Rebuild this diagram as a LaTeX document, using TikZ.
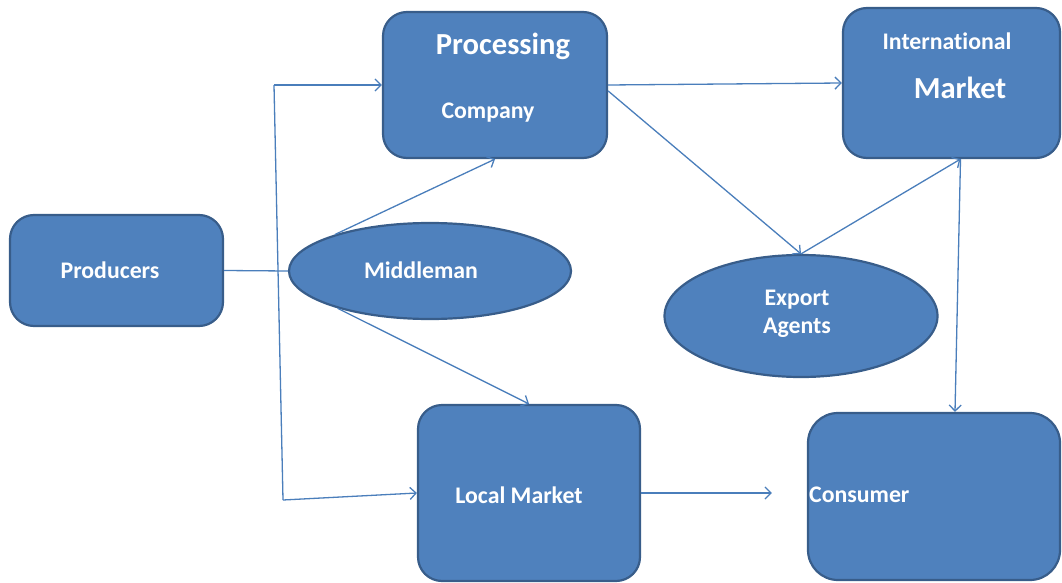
\documentclass[tikz,border=0pt]{standalone}
\usepackage{fontspec}
\setmainfont{Carlito}[Ligatures=NoCommon]
\usetikzlibrary{shapes.geometric,arrows.meta}
\definecolor{boxfill}{RGB}{79,129,189}
\definecolor{boxline}{RGB}{56,93,138}
\definecolor{linkcol}{RGB}{74,126,187}
\tikzstyle{arrow} = [linkcol,line width=1.3pt,-{Straight Barb[length=6pt,width=12pt]}]
\tikzstyle{link} = [linkcol,line width=1.3pt]

\begin{document}
\begin{tikzpicture}[x=1pt,y=-1pt]
                \tikzstyle{box}=[draw=boxline,fill=boxfill,line width=2.2pt,rounded corners=24pt,inner sep=0pt]
                \tikzstyle{oval}=[draw=boxline,fill=boxfill,line width=2.2pt,ellipse,inner sep=0pt]
                \tikzstyle{txt}=[text=white,font=\fontsize{23.8}{28}\bfseries\selectfont,inner sep=0pt,align=center]
                \tikzstyle{bigtxt}=[txt,font=\fontsize{30.6}{35}\bfseries\selectfont]

                \useasboundingbox (0,0) rectangle (1062,583);

                \node (prod) [box, minimum width=213pt, minimum height=111pt] at (116.5,270.5) {};
                \node (proc) [box, minimum width=224pt, minimum height=146pt] at (495,85) {};
                \node (intl) [box, minimum width=217pt, minimum height=150pt] at (951.5,83) {};
                \node (mid) [oval, minimum width=282pt, minimum height=96pt] at (430,271) {};
                \node (expo) [oval, minimum width=273pt, minimum height=122pt] at (801,316) {};
                \node (local) [box, minimum width=222pt, minimum height=176pt] at (529,493) {};
                \node (cons) [box, minimum width=252pt, minimum height=167pt, rounded corners=30pt] at (934,496.5) {};

                \node (prodtxt) [txt] at (110,270) {Producers};
                \node (proctxt) [bigtxt] at (503,46) {Processing};
                \node (comptxt) [txt] at (488,113) {Company};
                \node (intltxt) [txt] at (947,41) {International};
                \node (markettxt) [bigtxt] at (960,88) {Market};
                \node (midtxt) [txt] at (421,270) {Middleman};
                \node (expotxt) [txt] at (797,314) {Export\\Agents};
                \node (localtxt) [txt] at (519,495) {Local Market};
                \node (constxt) [txt, anchor=west] at (809,495) {Consumer};

                \coordinate (jt) at (274,85);
                \coordinate (jb) at (283,500);
                \coordinate (ib) at ([xshift=9pt]intl.south);

                \draw [link] (prod.east) -- (mid.west);
                \draw [link] (jt) -- (jb);
                \draw [arrow] (jt) -- (proc.west);
                \draw [arrow] (jb) -- (local.west);
                \draw [arrow] (mid.159) -- (proc.south);
                \draw [arrow] (mid.202) -- (local.north);
                \draw [arrow] (proc.east) -- (intl.west);
                \draw [arrow] (proc.-3) -- (expo.north);
                \draw [arrow] (expo.north) -- (ib);
                \draw [arrow] (ib) -- ([xshift=21pt]cons.north);
                \draw [arrow, shorten >=35pt] (local.east) -- (local.east -| cons.west);
            \end{tikzpicture}
\end{document}
